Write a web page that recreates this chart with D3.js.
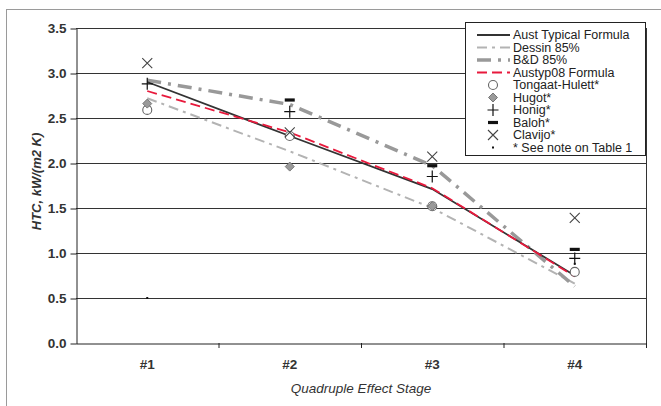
<!DOCTYPE html>
<html><head><meta charset="utf-8">
<script src="https://cdn.jsdelivr.net/npm/d3@7/dist/d3.min.js"></script>
<style>body{margin:0;background:#fff}svg{display:block;font-family:"Liberation Sans",Arial,sans-serif}</style>
</head><body><svg id="c" width="661" height="406"></svg>
<script>
const categories = ["#1", "#2", "#3", "#4"];
const yTicks = [0, 0.5, 1.0, 1.5, 2.0, 2.5, 3.0, 3.5];
const austTypical = [2.90, 2.30, 1.71, 0.75];
const dessin85 = [2.72, 2.13, 1.50, 0.66];
const bd85 = [2.92, 2.65, 1.97, 0.63];
const austyp08 = [2.80, 2.34, 1.72, 0.74];
const tongaat = [2.59, 2.30, 1.52, 0.79];
const hugot = [2.66, 1.96, 1.52, null];
const honig = [2.88, 2.57, 1.85, 0.94];
const baloh = [null, 2.70, 1.97, 1.04];
const clavijo = [3.11, 2.34, 2.07, 1.39];
const seeNote = [0.50, null, null, 0.88];

const svg = d3.select("#c");
const L = 76, R = 646, T = 28, B = 343;
const x = d3.scaleBand().domain(categories).range([L, R]).padding(0);
const cx = c => x(c) + x.bandwidth() / 2;
const y = d3.scaleLinear().domain([0, 3.5]).range([B, T]);

// outer frame
svg.append("rect").attr("x", 6.5).attr("y", 9.5).attr("width", 660).attr("height", 400)
  .attr("fill", "none").attr("stroke", "#9a9a9a");

// gridlines
svg.append("g").selectAll("line").data(yTicks.filter(v => v > 0)).join("line")
  .attr("x1", L).attr("x2", R).attr("y1", d => Math.round(y(d)) + 0.5).attr("y2", d => Math.round(y(d)) + 0.5)
  .attr("stroke", "#333").attr("stroke-width", 1);
svg.append("line").attr("x1", R + 0.5).attr("x2", R + 0.5).attr("y1", T).attr("y2", B).attr("stroke", "#333");

// y axis
const ya = svg.append("g").attr("transform", `translate(${L + 0.5},0.5)`)
  .call(d3.axisLeft(y).tickValues(yTicks).tickFormat(d3.format(".1f")).tickSize(6).tickSizeOuter(0).tickPadding(4));
ya.selectAll("path,line").attr("stroke", "#222");
ya.selectAll("text").attr("font-size", 13.5).attr("font-weight", "bold").attr("fill", "#333")
  .attr("font-family", "Liberation Sans, Arial, sans-serif");

// x axis
const xa = svg.append("g").attr("transform", `translate(0,${B + 0.5})`)
  .call(d3.axisBottom(x).tickSize(0).tickSizeOuter(0).tickPadding(16));
xa.select("path").attr("stroke", "#222");
xa.selectAll("text").attr("font-size", 13.5).attr("font-weight", "bold").attr("fill", "#333")
  .attr("font-family", "Liberation Sans, Arial, sans-serif");
svg.append("g").selectAll("line").data(categories).join("line")
  .attr("x1", d => x(d) + x.bandwidth() + 0.5).attr("x2", d => x(d) + x.bandwidth() + 0.5)
  .attr("y1", B).attr("y2", B + 5).attr("stroke", "#222");

// axis titles
svg.append("text").attr("transform", `translate(36,${(T + B) / 2 - 4}) rotate(-90)`)
  .attr("text-anchor", "middle").attr("dominant-baseline", "central")
  .attr("font-size", 13).attr("font-style", "italic").attr("font-weight", "bold").attr("fill", "#333")
  .text("HTC, kW/(m2 K)");
svg.append("text").attr("x", (L + R) / 2).attr("y", 393)
  .attr("text-anchor", "middle").attr("font-size", 13.5).attr("font-style", "italic").attr("fill", "#333")
  .text("Quadruple Effect Stage");

// lines
const lineGen = d3.line().x((d, i) => cx(categories[i])).y(d => y(d));
const lineSeries = [
  {name: "Dessin 85%", data: dessin85, stroke: "#b3b3b3", width: 2, dash: "10,5,3,5"},
  {name: "B&D 85%", data: bd85, stroke: "#999", width: 3.5, dash: "14,7,3,7"},
  {name: "Aust Typical Formula", data: austTypical, stroke: "#333", width: 1.8, dash: null},
  {name: "Austyp08 Formula", data: austyp08, stroke: "#e8193c", width: 1.8, dash: "10,5"}
];
lineSeries.forEach(s => {
  svg.append("path").datum(s.data).attr("d", lineGen).attr("fill", "none")
    .attr("stroke", s.stroke).attr("stroke-width", s.width).attr("stroke-dasharray", s.dash);
});

// markers
function drawMarker(g, type, px, py) {
  if (type === "circle") g.append("circle").attr("cx", px).attr("cy", py).attr("r", 4.5).attr("fill", "#fff").attr("stroke", "#666").attr("stroke-width", 1.1);
  else if (type === "diamond") g.append("path").attr("d", `M${px},${py - 4.5}L${px + 4.5},${py}L${px},${py + 4.5}L${px - 4.5},${py}Z`).attr("fill", "#9a9a9a").attr("stroke", "#777").attr("stroke-width", 1);
  else if (type === "plus") g.append("path").attr("d", `M${px - 5.5},${py}H${px + 5.5}M${px},${py - 6}V${py + 6}`).attr("stroke", "#111").attr("stroke-width", 1.2).attr("fill", "none");
  else if (type === "dash") g.append("rect").attr("x", px - 5).attr("y", py - 1.6).attr("width", 10).attr("height", 3.2).attr("fill", "#111");
  else if (type === "cross") g.append("path").attr("d", `M${px - 5},${py - 5}L${px + 5},${py + 5}M${px + 5},${py - 5}L${px - 5},${py + 5}`).attr("stroke", "#444").attr("stroke-width", 1.1).attr("fill", "none");
  else if (type === "dot") g.append("rect").attr("x", px - 1).attr("y", py - 1).attr("width", 2).attr("height", 2).attr("fill", "#111");
}
const markerSeries = [
  {name: "Tongaat-Hulett*", data: tongaat, type: "circle"},
  {name: "Hugot*", data: hugot, type: "diamond"},
  {name: "Honig*", data: honig, type: "plus"},
  {name: "Baloh*", data: baloh, type: "dash"},
  {name: "Clavijo*", data: clavijo, type: "cross"},
  {name: "* See note on Table 1", data: seeNote, type: "dot"}
];
const mg = svg.append("g");
markerSeries.forEach(s => s.data.forEach((v, i) => {
  if (v != null) drawMarker(mg, s.type, cx(categories[i]), y(v));
}));

// legend
const legendOrder = ["Aust Typical Formula", "Dessin 85%", "B&D 85%", "Austyp08 Formula"];
const lg = svg.append("g");
lg.append("rect").attr("x", 465.5).attr("y", 22.5).attr("width", 180).attr("height", 133)
  .attr("fill", "#fff").attr("stroke", "#222");
const rowY = i => 35 + i * 12.5;
legendOrder.map(n => lineSeries.find(s => s.name === n)).forEach((s, i) => {
  lg.append("line").attr("x1", 477).attr("x2", 510).attr("y1", rowY(i)).attr("y2", rowY(i))
    .attr("stroke", s.stroke).attr("stroke-width", s.width).attr("stroke-dasharray", s.dash);
  lg.append("text").attr("x", 513).attr("y", rowY(i)).attr("dominant-baseline", "central")
    .attr("font-size", 12.5).attr("fill", "#222").text(s.name);
});
markerSeries.forEach((s, j) => {
  const i = j + 4;
  drawMarker(lg, s.type, 493, rowY(i));
  lg.append("text").attr("x", 513).attr("y", rowY(i)).attr("dominant-baseline", "central")
    .attr("font-size", 12.5).attr("fill", "#222").text(s.name);
});
</script></body></html>
